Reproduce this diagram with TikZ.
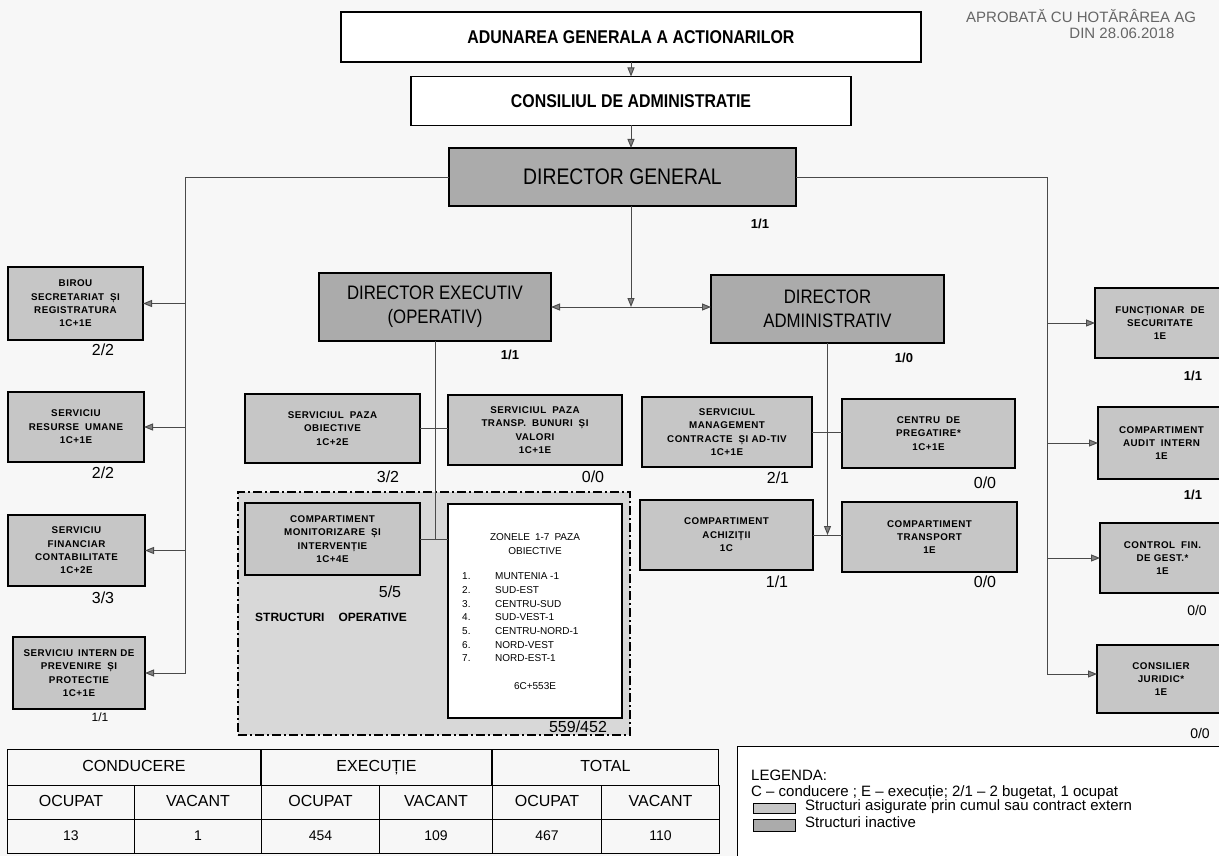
\documentclass[tikz,border=0pt]{standalone}
\usepackage{fontspec}
\setmainfont{Liberation Sans}
\newfontfamily\narrowfont[FakeStretch=0.86]{Liberation Sans}
\newfontfamily\unitfont[LetterSpace=5]{Liberation Sans}
\usetikzlibrary{arrows.meta,matrix}
\definecolor{unitgray}{HTML}{C6C6C6}
\definecolor{dirgray}{HTML}{ABABAB}
\definecolor{opgray}{HTML}{D8D8D8}
\definecolor{lnkgray}{HTML}{4A4A4A}
\definecolor{papergray}{HTML}{F7F7F7}

\begin{document}
\begin{tikzpicture}[x=1pt, y=-1pt,
  box/.style={draw, line width=1.3pt, align=center, inner sep=1pt, outer sep=0pt},
  topbox/.style={box, fill=white, font=\narrowfont\bfseries\fontsize{18.5}{22}\selectfont},
  dirbox/.style={box, fill=dirgray, font=\narrowfont\fontsize{19.5}{24}\selectfont},
  unit/.style={box, fill=unitgray, font=\unitfont\bfseries\fontsize{9.8}{13.4}\selectfont},
  opbox/.style={draw, line width=1.3pt, dash pattern=on 9pt off 3pt on 2pt off 3pt, fill=opgray, inner sep=0pt},
  cnt/.style={font=\fontsize{16}{16}\selectfont, inner sep=0pt},
  bcnt/.style={font=\bfseries\fontsize{13}{13}\selectfont, inner sep=0pt},
  ztxt/.style={inner sep=0pt, align=center, font=\fontsize{10}{13.7}\selectfont},
  toptxt/.style={inner sep=0pt, text=black!60, font=\fontsize{15}{15}\selectfont},
  lnk/.style={draw=lnkgray, line width=0.9pt},
  arr/.style={lnk, -{Triangle[length=9pt,width=7pt,fill=gray]}},
  arr2/.style={lnk, {Triangle[length=9pt,width=7pt,fill=gray]}-{Triangle[length=9pt,width=7pt,fill=gray]}},
  tcell/.style={draw, line width=1pt, minimum height=34, inner sep=0pt, outer sep=0pt, text height=11.5pt, text depth=3.5pt},
  legtxt/.style={anchor=west, inner sep=0pt, font=\fontsize{15}{15}\selectfont},
  swatch/.style={draw, line width=0.6pt, minimum width=42, minimum height=10, inner sep=0pt}]
\useasboundingbox (0,0) rectangle (1219,856);
\fill[papergray] (0,0) rectangle (1219,856);

\node[toptxt, anchor=west] (aprob) at (966,16) {APROBATĂ CU HOTĂRÂREA AG};
\node[toptxt] (aprob-d) at (1122,33) {DIN 28.06.2018};

\node[topbox, minimum width=580, minimum height=50] (aga) at (631,37) {ADUNAREA GENERALA A ACTIONARILOR};
\node[topbox, minimum width=440, minimum height=49] (ca) at (631,101) {CONSILIUL DE ADMINISTRATIE};
\node[dirbox, minimum width=347, minimum height=58, font=\narrowfont\fontsize{22.5}{24}\selectfont] (dg) at (622.5,177) {DIRECTOR GENERAL};
\node[bcnt] (dg-n) at (760,224) {1/1};
\node[dirbox, minimum width=232, minimum height=68] (deo) at (435,307) {DIRECTOR EXECUTIV\\(OPERATIV)};
\node[bcnt] (deo-n) at (510,355) {1/1};
\node[dirbox, minimum width=233, minimum height=68] (da) at (827.5,309) {DIRECTOR\\ADMINISTRATIV};
\node[bcnt] (da-n) at (904,358) {1/0};

\draw[arr] (aga.south) -- (ca.north);
\draw[arr] (ca.south) -- (ca.south |- dg.north);
\draw[arr] (ca.south |- dg.south) -- (ca.south |- deo.east);
\draw[arr2] (deo.east) -- (deo.east -| da.west);

\node[unit, minimum width=135, minimum height=73] (bsr) at (75.5,303.5) {BIROU\\SECRETARIAT\hspace{6pt}ȘI\\REGISTRATURA\\1C+1E};
\node[cnt] (bsr-n) at (103,350) {2/2};
\node[unit, minimum width=136, minimum height=70] (sru) at (76,427) {SERVICIU\\RESURSE\hspace{6pt}UMANE\\1C+1E};
\node[cnt] (sru-n) at (103,473) {2/2};
\node[unit, minimum width=137, minimum height=71] (sfc) at (76.5,550.5) {SERVICIU\\FINANCIAR\\CONTABILITATE\\1C+2E};
\node[cnt] (sfc-n) at (103,598) {3/3};
\node[unit, minimum width=132, minimum height=72] (sipp) at (79,673) {SERVICIU\hspace{5pt}INTERN DE\\PREVENIRE\hspace{6pt}ȘI\\PROTECTIE\\1C+1E};
\node[cnt, font=\fontsize{12}{12}\selectfont] (sipp-n) at (100,717) {1/1};

\node[unit, anchor=west, minimum width=130, minimum height=70] (fs) at (1095,323) {FUNCȚIONAR\hspace{6pt}DE\\SECURITATE\\1E};
\node[bcnt] (fs-n) at (1193,376) {1/1};
\node[unit, anchor=west, minimum width=127, minimum height=72] (cai) at (1098,443) {COMPARTIMENT\\AUDIT\hspace{6pt}INTERN\\1E};
\node[bcnt] (cai-n) at (1193,495) {1/1};
\node[unit, anchor=west, minimum width=125, minimum height=70] (cfg) at (1100,558) {CONTROL\hspace{6pt}FIN.\\DE GEST.*\\1E};
\node[cnt, font=\fontsize{14}{14}\selectfont] (cfg-n) at (1197,610) {0/0};
\node[unit, anchor=west, minimum width=128, minimum height=68] (cj) at (1097,679) {CONSILIER\\JURIDIC*\\1E};
\node[cnt, font=\fontsize{14}{14}\selectfont] (cj-n) at (1200,733) {0/0};

\coordinate (lbus) at (185,673);
\coordinate (rbus) at (1047,674);
\draw[arr] (dg.west) -| (lbus) -- (lbus -| sipp.east);
\draw[arr] (bsr.east -| lbus) -- (bsr.east);
\draw[arr] (sru.east -| lbus) -- (sru.east);
\draw[arr] (sfc.east -| lbus) -- (sfc.east);
\draw[arr] (dg.east) -| (rbus) -- (rbus -| cj.west);
\draw[arr] (fs.west -| rbus) -- (fs.west);
\draw[arr] (cai.west -| rbus) -- (cai.west);
\draw[arr] (cfg.west -| rbus) -- (cfg.west);

\node[opbox, minimum width=392, minimum height=243] (op) at (434,613.5) {};
\node[unit, minimum width=175, minimum height=69] (spo) at (332.5,428.5) {SERVICIUL\hspace{6pt}PAZA\\OBIECTIVE\\1C+2E};
\node[cnt] (spo-n) at (388,477) {3/2};
\node[unit, minimum width=174, minimum height=70] (spt) at (535,430) {SERVICIUL\hspace{6pt}PAZA\\TRANSP.\hspace{6pt}BUNURI\hspace{6pt}ȘI\\VALORI\\1C+1E};
\node[cnt] (spt-n) at (593,477) {0/0};
\node[unit, minimum width=170, minimum height=70] (smc) at (727,432) {SERVICIUL\\MANAGEMENT\\CONTRACTE\hspace{6pt}ȘI AD-TIV\\1C+1E};
\node[cnt] (smc-n) at (778,478) {2/1};
\node[unit, minimum width=173, minimum height=69] (cpr) at (928.5,433.5) {CENTRU\hspace{6pt}DE\\PREGATIRE*\\1C+1E};
\node[cnt] (cpr-n) at (985,483) {0/0};
\node[unit, minimum width=173, minimum height=70] (cac) at (726.5,535) {COMPARTIMENT\\ACHIZIȚII\\1C};
\node[cnt] (cac-n) at (777,582) {1/1};
\node[unit, minimum width=175, minimum height=70] (ctr) at (929.5,537) {COMPARTIMENT\\TRANSPORT\\1E};
\node[cnt] (ctr-n) at (985,582) {0/0};
\node[unit, minimum width=175, minimum height=72] (cmi) at (332.5,539) {COMPARTIMENT\\MONITORIZARE\hspace{6pt}ȘI\\INTERVENȚIE\\1C+4E};
\node[cnt] (cmi-n) at (390,592) {5/5};
\node[anchor=west, inner sep=0pt, font=\bfseries\fontsize{12}{12}\selectfont] (op-t) at (255,617) {STRUCTURI\hspace{14pt}OPERATIVE};
\node[box, fill=white, minimum width=174, minimum height=214] (zon) at (535,611) {};
\node[ztxt] (zon-t) at (535,544) {ZONELE\hspace{5pt}1-7\hspace{5pt}PAZA\\OBIECTIVE};
\node[ztxt, anchor=north west, align=left] (zon-l) at (462,570) {\begin{tabular}{@{}p{33pt}@{}l@{}}
1. & MUNTENIA -1\\
2. & SUD-EST\\
3. & CENTRU-SUD\\
4. & SUD-VEST-1\\
5. & CENTRU-NORD-1\\
6. & NORD-VEST\\
7. & NORD-EST-1
\end{tabular}};
\node[ztxt] (zon-e) at (535,686) {6C+553E};
\node[cnt] (zon-n) at (578,727) {559/452};

\draw[lnk] (deo.south) -- (deo.south |- cmi.east);
\draw[lnk] (spo.east) -- (spo.east -| spt.west);
\draw[lnk] (cmi.east) -- (cmi.east -| zon.west);
\draw[arr] (da.south) -- (da.south |- cac.east);
\draw[lnk] (smc.east) -- (smc.east -| cpr.west);
\draw[lnk] (cac.east) -- (cac.east -| ctr.west);

\matrix (tab) [matrix of nodes, anchor=north west, inner sep=0pt, outer sep=0pt,
  column sep=-1pt, row sep=-1pt, nodes={tcell},
  row 1/.style={nodes={font=\fontsize{16}{16}\selectfont}},
  row 2/.style={nodes={font=\fontsize{14}{14}\selectfont}},
  column 1/.style={nodes={minimum width=127}}, column 2/.style={nodes={minimum width=127}},
  column 3/.style={nodes={minimum width=118}}, column 4/.style={nodes={minimum width=113}},
  column 5/.style={nodes={minimum width=109}}, column 6/.style={nodes={minimum width=118}}] at (7,785) {
  OCUPAT & VACANT & OCUPAT & VACANT & OCUPAT & VACANT \\
  13 & 1 & 454 & 109 & 467 & 110 \\
};
\node[tcell, minimum width=253, minimum height=36, anchor=south west, font=\fontsize{16}{16}\selectfont] (h-cond) at (tab-1-1.north west) {CONDUCERE};
\node[tcell, minimum width=230, minimum height=36, anchor=south west, font=\fontsize{16}{16}\selectfont] (h-exec) at (tab-1-3.north west) {EXECUȚIE};
\node[tcell, minimum width=226, minimum height=36, anchor=south west, font=\fontsize{16}{16}\selectfont] (h-tot) at (tab-1-5.north west) {TOTAL};

\node[draw, line width=1pt, fill=white, minimum width=500, minimum height=140, anchor=north west] (leg) at (737,746) {};
\node[legtxt] (leg-t) at (751,775) {LEGENDA:};
\node[legtxt] (leg-c) at (751,793) {C – conducere ; E – execuție; 2/1 – 2 bugetat, 1 ocupat};
\node[swatch, fill=unitgray] (sw1) at (774,808) {};
\node[legtxt] (sw1-t) at (805,807) {Structuri asigurate prin cumul sau contract extern};
\node[swatch, fill=dirgray, minimum height=12] (sw2) at (774,825) {};
\node[legtxt] (sw2-t) at (805,822) {Structuri inactive};
\end{tikzpicture}
\end{document}
